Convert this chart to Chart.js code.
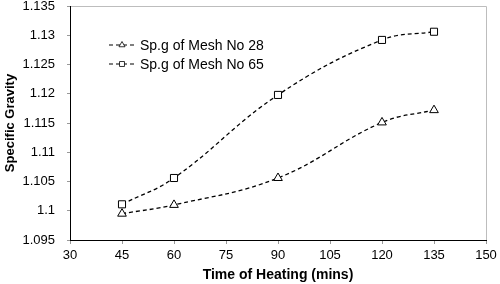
<!DOCTYPE html>
<html>
<head>
<meta charset="utf-8">
<script src="https://cdn.jsdelivr.net/npm/chart.js@4.4.0/dist/chart.umd.min.js"></script>
<style>
  html, body { margin: 0; padding: 0; background: #fff; }
  #wrap { width: 500px; height: 284px; }
</style>
</head>
<body>
<div id="wrap"><canvas id="sgChart"></canvas></div>
<script>
// datos
const heatingTimes = [45, 60, 90, 120, 135];
const mesh28 = [1.0995, 1.1010, 1.1056, 1.1151, 1.1172];
const mesh65 = [1.1011, 1.1056, 1.1198, 1.1292, 1.1306];
const seriesLabels = ['Sp.g of Mesh No 28', 'Sp.g of Mesh No 65'];
const seriesMarkers = ['triangle', 'rect'];
const xTicks = [30, 45, 60, 75, 90, 105, 120, 135, 150];
const yTicks = [1.095, 1.1, 1.105, 1.11, 1.115, 1.12, 1.125, 1.13, 1.135];

const FONT = 'Arial, "Liberation Sans", sans-serif';

function toPoints(values) {
    return heatingTimes.map(function(t, i) { return { x: t, y: values[i] }; });
}

function drawMarker(ctx, style, x, y, r) {
    ctx.beginPath();
    if (style === 'triangle') {
        ctx.moveTo(x, y - r);
        ctx.lineTo(x + r * 0.866, y + r * 0.5);
        ctx.lineTo(x - r * 0.866, y + r * 0.5);
        ctx.closePath();
    } else {
        const s = r * Math.SQRT1_2;
        ctx.rect(x - s, y - s, 2 * s, 2 * s);
    }
    ctx.fill();
    ctx.stroke();
}

// marco gris arriba y a la derecha
const framePlugin = {
    id: 'frame',
    beforeDraw: function(chart) {
        const a = chart.chartArea;
        const ctx = chart.ctx;
        ctx.save();
        ctx.strokeStyle = '#bdbdbd';
        ctx.lineWidth = 1;
        ctx.beginPath();
        ctx.moveTo(a.left, a.top + 0.5);
        ctx.lineTo(a.right + 0.5, a.top + 0.5);
        ctx.lineTo(a.right + 0.5, a.bottom);
        ctx.stroke();
        ctx.restore();
    }
};

// leyenda estilo Excel: --marcador-- etiqueta
const legendPlugin = {
    id: 'excelLegend',
    afterDraw: function(chart) {
        const ctx = chart.ctx;
        ctx.save();
        chart.data.datasets.forEach(function(ds, i) {
            const y = 45 + i * 19;
            ctx.strokeStyle = '#000';
            ctx.lineWidth = 1.1;
            ctx.setLineDash([4, 3]);
            ctx.beginPath();
            ctx.moveTo(109, y);
            ctx.lineTo(137, y);
            ctx.stroke();
            ctx.setLineDash([]);
            ctx.lineWidth = 0.8;
            ctx.fillStyle = '#fff';
            drawMarker(ctx, ds.pointStyle, 122, y, 3.5);
            ctx.fillStyle = '#000';
            ctx.font = '14px ' + FONT;
            ctx.textBaseline = 'middle';
            ctx.fillText(ds.label, 140, y + 1);
        });
        ctx.restore();
    }
};

function makeDataset(label, values, marker) {
    return {
        label: label,
        data: toPoints(values),
        borderColor: '#000',
        borderWidth: 1.3,
        borderDash: [4, 3],
        tension: 0.4,
        fill: false,
        pointStyle: marker,
        pointRadius: 5,
        pointBorderWidth: 1,
        pointBorderColor: '#000',
        pointBackgroundColor: '#fff'
    };
}

new Chart(document.getElementById('sgChart'), {
    type: 'line',
    data: {
        datasets: [
            makeDataset(seriesLabels[0], mesh28, seriesMarkers[0]),
            makeDataset(seriesLabels[1], mesh65, seriesMarkers[1])
        ]
    },
    options: {
        responsive: true,
        maintainAspectRatio: false,
        animation: false,
        layout: { padding: { top: 5, right: 14, left: 0, bottom: 0 } },
        plugins: {
            legend: { display: false },
            tooltip: { enabled: false }
        },
        scales: {
            x: {
                type: 'linear',
                min: 30,
                max: 150,
                afterBuildTicks: function(scale) {
                    scale.ticks = xTicks.map(function(v) { return { value: v }; });
                },
                afterFit: function(scale) {
                    scale.height = 44;
                    scale.paddingLeft = 0;
                    scale.paddingRight = 0;
                },
                border: { color: '#000', width: 1 },
                grid: { drawOnChartArea: false, color: '#999', tickLength: 4 },
                ticks: {
                    color: '#000',
                    padding: 4,
                    maxRotation: 0,
                    font: { family: FONT, size: 13 },
                    callback: function(v) { return String(v); }
                },
                title: {
                    display: true,
                    text: 'Time of Heating (mins)',
                    color: '#000',
                    padding: { top: 0, bottom: 0 },
                    font: { family: FONT, size: 14, weight: 'bold' }
                }
            },
            y: {
                min: 1.095,
                max: 1.135,
                afterBuildTicks: function(scale) {
                    scale.ticks = yTicks.map(function(v) { return { value: v }; });
                },
                afterFit: function(scale) {
                    scale.width = 70;
                    scale.paddingTop = 0;
                    scale.paddingBottom = 0;
                },
                border: { color: '#000', width: 1 },
                grid: { drawOnChartArea: false, color: '#999', tickLength: 3 },
                ticks: {
                    color: '#000',
                    padding: 12,
                    font: { family: FONT, size: 13 },
                    callback: function(v) { return String(parseFloat(v.toFixed(3))); }
                },
                title: {
                    display: true,
                    text: 'Specific Gravity',
                    color: '#000',
                    padding: { top: 3, bottom: 0 },
                    font: { family: FONT, size: 13, weight: 'bold' }
                }
            }
        }
    },
    plugins: [framePlugin, legendPlugin]
});
</script>
</body>
</html>
